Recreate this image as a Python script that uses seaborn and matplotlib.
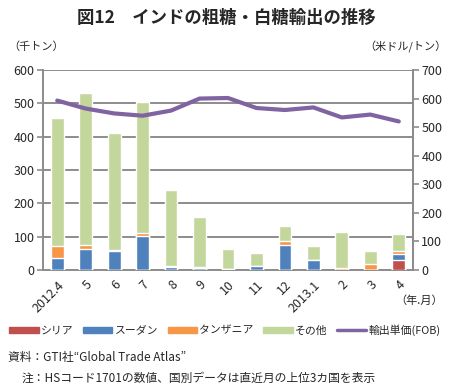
import matplotlib
matplotlib.use("Agg")
import matplotlib.pyplot as plt
import numpy as np
import pandas as pd
import seaborn as sns
from matplotlib.lines import Line2D
from matplotlib.patches import Patch

months = ["2012.4", "5", "6", "7", "8", "9", "10", "11", "12", "2013.1", "2", "3", "4"]
syria = [0, 0, 0, 0, 0, 0, 0, 0, 0, 0, 0, 0, 30]
sudan = [37, 63, 58, 102, 10, 7, 3, 11, 75, 30, 0, 0, 18]
tanzania = [35, 12, 2, 8, 2, 1, 0, 0, 11, 0, 5, 18, 10]
other = [383, 457, 350, 393, 228, 152, 59, 40, 47, 43, 108, 40, 50]
price = [593, 565, 548, 540, 558, 600, 602, 567, 560, 569, 534, 544, 520]

C_SYRIA = "#C0504D"
C_SUDAN = "#4F81BD"
C_TANZ = "#F79646"
C_OTHER = "#C3D69B"
C_LINE = "#8064A2"
GRID = "#8c8c8c"

sns.set_theme(style="white")
plt.rcParams["font.family"] = ["Noto Sans CJK JP", "DejaVu Sans"]

df = pd.DataFrame({"month": months, "syria": syria, "sudan": sudan,
                   "tanzania": tanzania, "other": other, "price": price})
# cumulative heights, drawn back to front for stacking
df["c1"] = df["syria"]
df["c2"] = df["c1"] + df["sudan"]
df["c3"] = df["c2"] + df["tanzania"]
df["c4"] = df["c3"] + df["other"]

fig = plt.figure(figsize=(4.51, 3.9), dpi=100)
ax = fig.add_axes([43 / 451, 1 - 270 / 390, 370 / 451, 200 / 390])

for col, color in [("c4", C_OTHER), ("c3", C_TANZ), ("c2", C_SUDAN), ("c1", C_SYRIA)]:
    sns.barplot(data=df, x="month", y=col, color=color, width=0.45,
                saturation=1, ax=ax, zorder=3)

ax.set_ylim(0, 600)
ax.set_yticks(range(0, 601, 100))
ax.set_xlim(-0.5, len(months) - 0.5)
ax.grid(axis="y", color=GRID, linewidth=1.4, zorder=0)
ax.set_axisbelow(True)
ax.set_xlabel("")
ax.set_ylabel("")
ax.spines["top"].set_visible(False)
for s in ["left", "bottom", "right"]:
    ax.spines[s].set_color(GRID)
    ax.spines[s].set_linewidth(1.4)
ax.set_xticks(np.arange(len(months)))
ax.set_xticklabels(months, rotation=45, ha="right", rotation_mode="anchor", fontsize=9)
ax.set_xticks(np.arange(-0.5, len(months)), minor=True)
ax.tick_params(axis="x", which="major", length=0, pad=6)
ax.tick_params(axis="x", which="minor", length=4, color=GRID, width=1.2, direction="out")
ax.tick_params(axis="y", length=4, color=GRID, width=1.2, direction="out", labelsize=9, pad=2)
ax.tick_params(left=True, bottom=True)

ax2 = ax.twinx()
sns.lineplot(x=np.arange(len(months)), y=df["price"], color=C_LINE, linewidth=3,
             ax=ax2, zorder=5)
ax2.set_ylim(0, 700)
ax2.set_yticks(range(0, 701, 100))
ax2.set_ylabel("")
ax2.grid(False)
for s in ["top", "left", "bottom"]:
    ax2.spines[s].set_visible(False)
ax2.spines["right"].set_color(GRID)
ax2.spines["right"].set_linewidth(1.4)
ax2.tick_params(axis="y", right=True, length=4, color=GRID, width=1.2,
                direction="out", labelsize=9, pad=2)

fig.text(226 / 451, 1 - 18 / 390, "図12　インドの粗糖・白糖輸出の推移", ha="center",
         va="center", fontsize=12.5, fontweight="bold")
fig.text(8 / 451, 1 - 47 / 390, "（千トン）", ha="left", va="center", fontsize=8)
fig.text(447 / 451, 1 - 47 / 390, "（米ドル/トン）", ha="right", va="center", fontsize=8)
fig.text(443 / 451, 1 - 301 / 390, "（年.月）", ha="right", va="center", fontsize=8)

handles = [Patch(color=C_SYRIA), Patch(color=C_SUDAN), Patch(color=C_TANZ),
           Patch(color=C_OTHER), Line2D([0], [0], color=C_LINE, lw=2.5)]
labels = ["シリア", "スーダン", "タンザニア", "その他", "輸出単価(FOB)"]
fig.legend(handles, labels, loc="center", bbox_to_anchor=(225 / 451, 1 - 330 / 390),
           ncol=5, frameon=False, fontsize=7.8, handlelength=2.7, handleheight=0.5,
           handletextpad=0.2, columnspacing=0.9)

fig.text(8 / 451, 1 - 358 / 390, "資料：GTI社“Global Trade Atlas”", ha="left",
         va="center", fontsize=8.5)
fig.text(22 / 451, 1 - 378 / 390, "注：HSコード1701の数値、国別データは直近月の上位3カ国を表示",
         ha="left", va="center", fontsize=8.5)

fig.savefig("out.png", dpi=100)
